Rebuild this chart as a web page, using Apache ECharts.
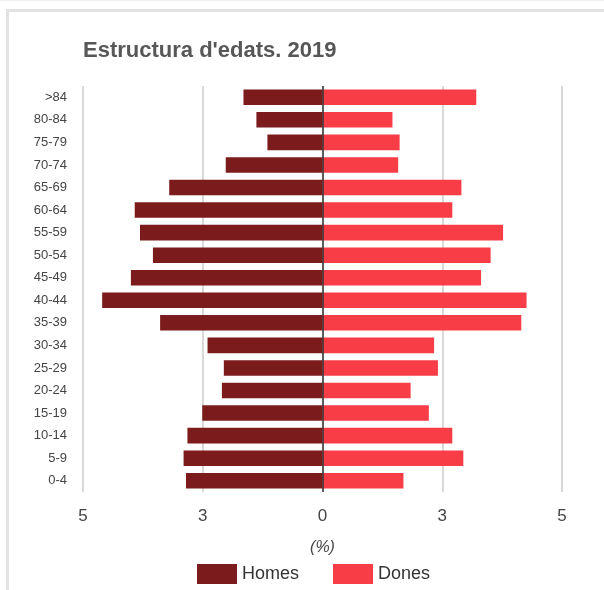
<!DOCTYPE html>
<html>
<head>
<meta charset="utf-8">
<script src="https://cdn.jsdelivr.net/npm/echarts@6/dist/echarts.min.js"></script>
<style>
  html, body { margin: 0; padding: 0; background: #fff; }
  #chart { position: absolute; left: 0; top: 0; width: 604px; height: 590px; }
  #frame {
    position: absolute; left: 6px; top: 9px; right: 0; bottom: 0;
    border-top: 3px solid #e2e2e2; border-left: 3px solid #e2e2e2;
    pointer-events: none;
  }
  #topline { position: absolute; left: 0; top: 0; right: 0; height: 1px; background: #eee; }
</style>
</head>
<body>
<div id="chart"></div>
<div id="frame"></div>
<div id="topline"></div>
<script>
const chart = echarts.init(document.getElementById("chart"));

// age groups, top to bottom
const ageGroups = [">84", "80-84", "75-79", "70-74", "65-69", "60-64", "55-59", "50-54", "45-49",
  "40-44", "35-39", "30-34", "25-29", "20-24", "15-19", "10-14", "5-9", "0-4"];

// share of population (%)
const homes = [1.65, 1.38, 1.15, 2.02, 3.20, 3.92, 3.81, 3.54, 4.00,
  4.60, 3.39, 2.40, 2.06, 2.10, 2.51, 2.82, 2.90, 2.85];
const dones = [3.21, 1.46, 1.61, 1.58, 2.90, 2.71, 3.77, 3.51, 3.31,
  4.26, 4.15, 2.33, 2.41, 1.84, 2.22, 2.71, 2.94, 1.69];

const FONT = "Liberation Sans, Arial, sans-serif";

chart.setOption({
  animation: false,
  textStyle: { fontFamily: FONT },

  title: {
    text: "Estructura d'edats. 2019",
    left: 78,
    top: 35,
    textStyle: { fontSize: 22, fontWeight: "bold", color: "#575757", fontFamily: FONT }
  },

  legend: {
    top: 559,
    left: 192,
    icon: "rect",
    itemWidth: 40,
    itemHeight: 20,
    itemGap: 34,
    textStyle: { fontSize: 18, color: "#333", fontFamily: FONT },
    data: ["Homes", "Dones"]
  },

  grid: { left: 83, right: 42, top: 86, bottom: 98 },

  xAxis: {
    type: "value",
    min: -5,
    max: 5,
    interval: 2.5,
    name: "(%)",
    nameLocation: "middle",
    nameGap: 48,
    nameTextStyle: { fontSize: 16, fontStyle: "italic", color: "#444", fontFamily: FONT },
    axisLine: { show: false },
    axisTick: { show: false },
    axisLabel: {
      margin: 16,
      fontSize: 17,
      color: "#444",
      formatter: v => String(Math.round(Math.abs(v)))
    },
    splitLine: { lineStyle: { color: "#cccccc", width: 1.5 } }
  },

  yAxis: {
    type: "category",
    inverse: true,
    data: ageGroups,
    axisLine: { show: false },
    axisTick: { show: false },
    axisLabel: { margin: 16, fontSize: 13, color: "#444" }
  },

  series: [
    {
      name: "Homes",
      type: "bar",
      stack: "pyr",
      barCategoryGap: "31%",
      itemStyle: { color: "#7b1b1b" },
      data: homes.map(v => -v)
    },
    {
      name: "Dones",
      type: "bar",
      stack: "pyr",
      barCategoryGap: "31%",
      itemStyle: { color: "#f93d46" },
      data: dones,
      markLine: {
        silent: true,
        symbol: "none",
        label: { show: false },
        lineStyle: { color: "#333", width: 1.5, type: "solid" },
        data: [{ xAxis: 0 }]
      }
    }
  ]
});
</script>
</body>
</html>
